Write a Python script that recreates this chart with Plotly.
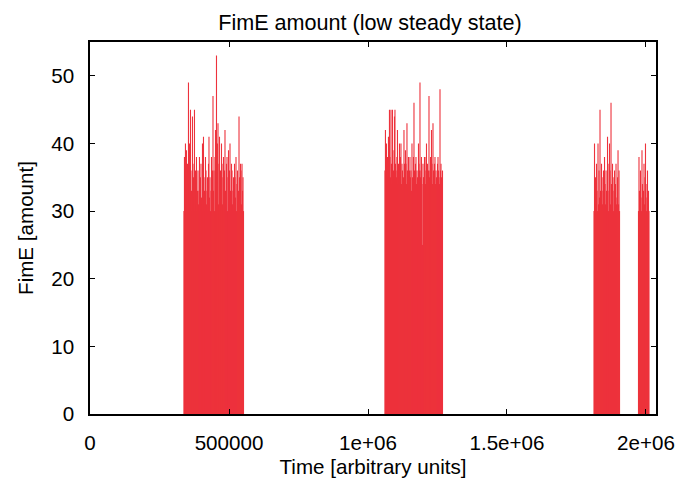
import plotly.graph_objects as go

# ---- data ----
dt = 1800  # time units between successive samples

block1_start = 338000
block1_values = [
    30, 38, 36, 40, 31, 39, 33, 37, 30, 49,
    34, 40, 31, 45, 36, 33, 30, 44, 37, 35,
    32, 45, 30, 36, 35, 38, 30, 33, 36, 31,
    33, 38, 30, 35, 37, 32, 31, 40, 30, 41,
    35, 33, 30, 38, 36, 31, 33, 35, 30, 37,
    41, 32, 35, 30, 33, 38, 30, 36, 47, 33,
    36, 30, 38, 42, 30, 53, 35, 40, 43, 31,
    37, 41, 30, 36, 33, 40, 35, 31, 37, 38,
    30, 36, 42, 33, 31, 37, 38, 30, 35, 39,
    31, 36, 40, 33, 30, 37, 36, 31, 33, 35,
    30, 37, 35, 32, 38, 30, 34, 36, 31, 33,
    44, 35, 30, 37, 36, 31, 37, 33, 35, 30,
]

block2_start = 1061000
block2_values = [
    36, 42, 34, 40, 37, 38, 35, 41, 36, 45,
    38, 35, 45, 37, 34, 45, 39, 36, 35, 44,
    45, 37, 36, 35, 38, 42, 34, 37, 36, 40,
    35, 38, 40, 34, 37, 36, 33, 35, 42, 37,
    35, 39, 37, 34, 43, 36, 35, 38, 34, 36,
    38, 35, 36, 33, 40, 35, 34, 38, 46, 36,
    35, 37, 38, 34, 36, 35, 34, 40, 37, 36,
    49, 35, 36, 38, 34, 25, 37, 35, 35, 38,
    36, 34, 38, 40, 35, 37, 34, 36, 47, 35,
    36, 38, 35, 42, 37, 34, 43, 36, 35, 37,
    38, 34, 36, 35, 34, 37, 38, 36, 35, 34,
    48, 36, 37, 35, 34, 36,
]

block3_start = 1813000
block3_values = [
    30, 40, 32, 35, 31, 37, 33, 30, 40, 31,
    36, 32, 45, 33, 30, 37, 35, 31, 33, 36,
    30, 38, 34, 31, 36, 33, 31, 41, 37, 30,
    33, 40, 36, 31, 46, 34, 31, 37, 35, 30,
    33, 36, 30, 34, 37, 31, 32, 35, 39, 31,
    36, 30,
]

block4_start = 1973000
block4_values = [
    30, 38, 33, 31, 36, 32, 30, 39, 34, 31,
    33, 37, 31, 35, 40, 32, 30, 34, 36, 31,
    33, 30,
]

x_tick_values = [0, 500000, 1000000, 1500000, 2000000]
x_tick_labels = ["0", "500000", "1e+06", "1.5e+06", "2e+06"]
y_tick_values = [0, 10, 20, 30, 40, 50]

# ---- build impulses ----
xs, ys = [], []
for start, vals in [(block1_start, block1_values), (block2_start, block2_values),
                    (block3_start, block3_values), (block4_start, block4_values)]:
    for i, v in enumerate(vals):
        t = start + i * dt
        xs += [t, t, None]
        ys += [0, v, None]

RED = "rgb(237,50,60)"
fig = go.Figure()
fig.add_trace(go.Scatter(x=xs, y=ys, mode="lines",
                         line=dict(color=RED, width=1.1),
                         hoverinfo="skip", showlegend=False))

FAMILY = "Liberation Sans, Arial, Helvetica, sans-serif"
FS = 20.6
font = dict(family=FAMILY, size=FS, color="black")
fig.update_layout(
    width=685, height=480,
    margin=dict(l=90, r=29, t=42, b=66, autoexpand=False),
    paper_bgcolor="white", plot_bgcolor="white",
    font=font,
    title=dict(text="FimE amount (low steady state)", x=370 / 685, xanchor="center",
               xref="container",
               y=1 - 22 / 480, yanchor="middle",
               font=dict(family=FAMILY, size=21.6, color="black")),
    showlegend=False,
)
fig.update_xaxes(range=[0, 2036000], tickvals=x_tick_values, ticktext=x_tick_labels,
                 ticks="inside", ticklen=5, tickwidth=1, tickcolor="black",
                 showline=True, linecolor="black", linewidth=1.5, mirror="ticks",
                 showgrid=False, zeroline=False, automargin=False,
                 ticklabelstandoff=10, tickfont=dict(family=FAMILY, size=FS, color="black"),
                 title=dict(text="Time [arbitrary units]", standoff=6,
                            font=dict(family=FAMILY, size=FS, color="black")))
fig.update_yaxes(range=[0, 55], tickvals=y_tick_values,
                 ticks="inside", ticklen=5, tickwidth=1, tickcolor="black",
                 showline=True, linecolor="black", linewidth=1.5, mirror="ticks",
                 showgrid=False, zeroline=False, automargin=False,
                 ticklabelstandoff=10, tickfont=dict(family=FAMILY, size=FS, color="black"),
                 title=dict(text="FimE [amount]", standoff=12,
                            font=dict(family=FAMILY, size=FS, color="black")))

fig.write_html("out.html", config={"displayModeBar": False},
               post_script="document.body.style.margin='0';document.body.style.padding='0';")
